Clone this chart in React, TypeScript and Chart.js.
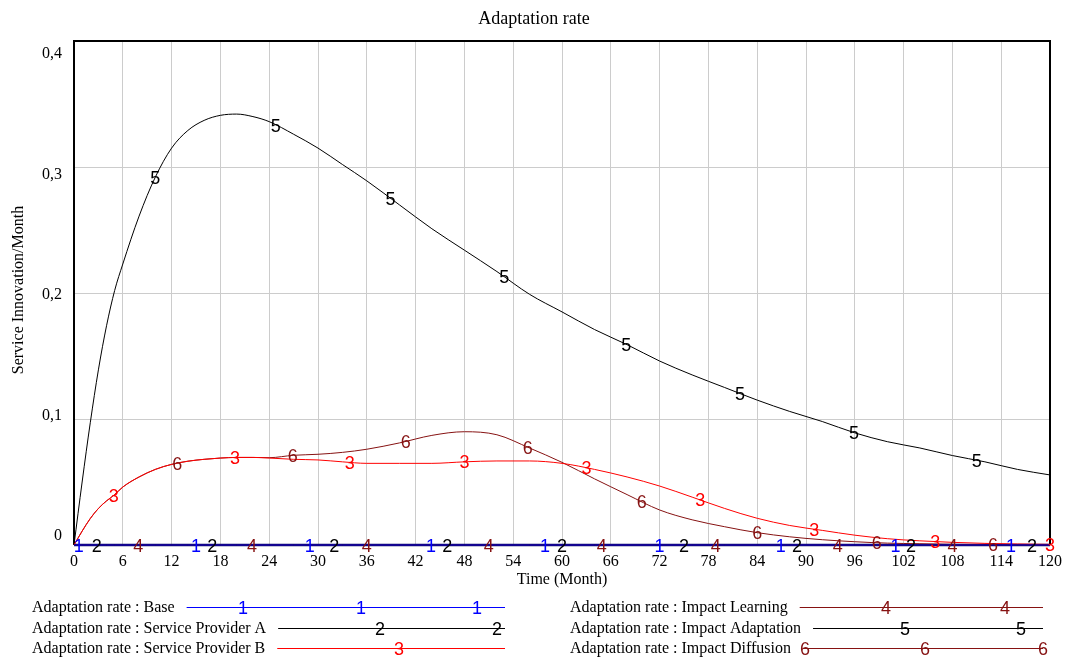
import { useEffect, useRef } from 'react';
import { Chart, registerables } from 'chart.js';

Chart.register(...registerables);

// ---------- data ----------
const TITLE = 'Adaptation rate';
const X_TITLE = 'Time (Month)';
const Y_TITLE = 'Service Innovation/Month';
const Y_TICK_LABELS = ['0', '0,1', '0,2', '0,3', '0,4'];

const SERIES_NAMES = [
  'Adaptation rate : Base',
  'Adaptation rate : Service Provider A',
  'Adaptation rate : Service Provider B',
  'Adaptation rate : Impact Learning',
  'Adaptation rate : Impact Adaptation',
  'Adaptation rate : Impact Diffusion',
];
const SERIES_MARKS = ['1', '2', '3', '4', '5', '6'];

const TIMES = [0, 1, 2, 3, 4, 5, 6, 8, 10, 12, 14, 16, 18, 20, 22, 24, 27, 30, 33, 36, 40, 44, 48, 52, 56, 60, 64, 68, 72, 76, 80, 84, 88, 92, 96, 100, 104, 108, 112, 116, 120];

const BASE = [0, 0, 0, 0, 0, 0, 0, 0, 0, 0, 0, 0, 0, 0, 0, 0, 0, 0, 0, 0, 0, 0, 0, 0, 0, 0, 0, 0, 0, 0, 0, 0, 0, 0, 0, 0, 0, 0, 0, 0, 0];
const SERVICE_PROVIDER_A = [0, 0, 0, 0, 0, 0, 0, 0, 0, 0, 0, 0, 0, 0, 0, 0, 0, 0, 0, 0, 0, 0, 0, 0, 0, 0, 0, 0, 0, 0, 0, 0, 0, 0, 0, 0, 0, 0, 0, 0, 0];
const SERVICE_PROVIDER_B = [0, 0.011, 0.021, 0.029, 0.035, 0.040, 0.046, 0.054, 0.060, 0.064, 0.0665, 0.068, 0.069, 0.0695, 0.0695, 0.069, 0.068, 0.0675, 0.066, 0.0648, 0.0648, 0.0648, 0.066, 0.0667, 0.0667, 0.0648, 0.060, 0.054, 0.0468, 0.038, 0.029, 0.0212, 0.0155, 0.0116, 0.0078, 0.005, 0.0033, 0.0021, 0.0013, 0.0008, 0.0005];
const IMPACT_LEARNING = [0, 0, 0, 0, 0, 0, 0, 0, 0, 0, 0, 0, 0, 0, 0, 0, 0, 0, 0, 0, 0, 0, 0, 0, 0, 0, 0, 0, 0, 0, 0, 0, 0, 0, 0, 0, 0, 0, 0, 0, 0];
const IMPACT_ADAPTATION = [0, 0.05, 0.097, 0.139, 0.174, 0.202, 0.223, 0.261, 0.292, 0.315, 0.329, 0.337, 0.341, 0.342, 0.340, 0.336, 0.326, 0.315, 0.302, 0.289, 0.270, 0.251, 0.234, 0.217, 0.199, 0.185, 0.171, 0.159, 0.146, 0.135, 0.125, 0.115, 0.106, 0.098, 0.089, 0.082, 0.077, 0.071, 0.066, 0.060, 0.0556];
const IMPACT_DIFFUSION = [0, 0.011, 0.021, 0.029, 0.035, 0.040, 0.046, 0.054, 0.060, 0.064, 0.0665, 0.068, 0.069, 0.0695, 0.0695, 0.0693, 0.0712, 0.072, 0.0735, 0.076, 0.081, 0.087, 0.0899, 0.0875, 0.077, 0.0656, 0.0525, 0.040, 0.0278, 0.020, 0.0145, 0.0098, 0.0065, 0.0042, 0.0026, 0.0015, 0.001, 0.0005, 0.0003, 0.0002, 0.0001];

// times at which the series number markers sit on each line
const MARK_T_BASE = [0.6, 15, 29, 43.9, 57.9, 72, 86.9, 101, 115.2];
const MARK_T_SP_A = [2.8, 17, 32, 45.9, 60, 75, 88.9, 102.9, 117.8];
const MARK_T_SP_B = [4.9, 19.8, 33.9, 48, 63, 77, 91, 105.9, 120];
const MARK_T_LEARN = [7.9, 21.9, 36, 51, 64.9, 78.9, 93.9, 108];
const MARK_T_ADAPT = [10, 24.8, 38.9, 52.9, 67.9, 81.9, 95.9, 111];
const MARK_T_DIFF = [12.7, 26.9, 40.8, 55.8, 69.8, 84, 98.7, 113];

const SERIES_VALUES = [BASE, SERVICE_PROVIDER_A, SERVICE_PROVIDER_B, IMPACT_LEARNING, IMPACT_ADAPTATION, IMPACT_DIFFUSION];
const SERIES_MARK_T = [MARK_T_BASE, MARK_T_SP_A, MARK_T_SP_B, MARK_T_LEARN, MARK_T_ADAPT, MARK_T_DIFF];

// ---------- styles ----------
const COLORS = ['#0000ff', '#000000', '#ff0000', '#861212', '#000000', '#861212'];
const SERIF = '"Liberation Serif", "Times New Roman", serif';
const SANS = '"Liberation Sans", Arial, sans-serif';

function valueAt(t: number, vals: number[]) {
  for (let i = 0; i < TIMES.length - 1; i++) {
    if (t >= TIMES[i] && t <= TIMES[i + 1]) {
      const f = (t - TIMES[i]) / (TIMES[i + 1] - TIMES[i]);
      return vals[i] + f * (vals[i + 1] - vals[i]);
    }
  }
  return vals[vals.length - 1];
}

function mark(ctx: CanvasRenderingContext2D, text: string, x: number, y: number, color: string) {
  ctx.save();
  ctx.font = `18px ${SANS}`;
  ctx.fillStyle = color;
  ctx.textAlign = 'center';
  ctx.textBaseline = 'alphabetic';
  ctx.fillText(text, x, y + 6.5);
  ctx.restore();
}

const vensimPlugin = {
  id: 'vensim',
  beforeDatasetsDraw(chart: any) {
    const { ctx, chartArea: a } = chart;
    ctx.save();
    ctx.strokeStyle = '#000';
    ctx.lineWidth = 2;
    ctx.beginPath();
    ctx.moveTo(a.left, a.bottom);
    ctx.lineTo(a.left, a.top);
    ctx.lineTo(a.right, a.top);
    ctx.lineTo(a.right, a.bottom);
    ctx.stroke();
    ctx.strokeStyle = '#10106e';
    ctx.lineWidth = 2.5;
    ctx.beginPath();
    ctx.moveTo(a.left, a.bottom);
    ctx.lineTo(a.right, a.bottom);
    ctx.stroke();
    ctx.restore();
  },
  afterDatasetsDraw(chart: any) {
    const { ctx } = chart;
    const xs = chart.scales.x;
    const ys = chart.scales.y;
    SERIES_VALUES.forEach((vals, i) => {
      SERIES_MARK_T[i].forEach((t) => {
        mark(ctx, SERIES_MARKS[i], xs.getPixelForValue(t), ys.getPixelForValue(valueAt(t, vals)), COLORS[i]);
      });
    });
  },
  afterDraw(chart: any) {
    const { ctx, chartArea: a } = chart;
    const xs = chart.scales.x;
    const ys = chart.scales.y;
    ctx.save();
    ctx.fillStyle = '#000';
    // title
    ctx.font = `18px ${SERIF}`;
    ctx.textAlign = 'center';
    ctx.textBaseline = 'alphabetic';
    ctx.fillText(TITLE, chart.width / 2, 24);
    // x ticks
    ctx.font = `16px ${SERIF}`;
    xs.ticks.forEach((tk: any) => {
      ctx.fillText(String(tk.value), xs.getPixelForValue(tk.value), 566);
    });
    ctx.fillText(X_TITLE, (a.left + a.right) / 2, 584);
    // y ticks
    ctx.textAlign = 'right';
    const h = a.bottom - a.top;
    ys.ticks.forEach((tk: any, i: number) => {
      const py = ys.getPixelForValue(tk.value);
      const ly = py + 12 - 22 * (py - a.top) / h;
      ctx.fillText(Y_TICK_LABELS[i], 62, ly + 5);
    });
    // y title
    ctx.save();
    ctx.translate(23, 290);
    ctx.rotate(-Math.PI / 2);
    ctx.textAlign = 'center';
    ctx.font = `16px ${SERIF}`;
    ctx.fillText(Y_TITLE, 0, 0);
    ctx.restore();
    // legend
    const rows = [
      { i: 0, x: 32, y: 607, end: 505, marks: [243, 361, 477] },
      { i: 1, x: 32, y: 628, end: 505, marks: [380, 497] },
      { i: 2, x: 32, y: 648, end: 505, marks: [399] },
      { i: 3, x: 570, y: 607, end: 1043, marks: [886, 1005] },
      { i: 4, x: 570, y: 628, end: 1043, marks: [905, 1021] },
      { i: 5, x: 570, y: 648, end: 1043, marks: [805, 925, 1043] },
    ];
    rows.forEach((r) => {
      ctx.font = `16px ${SERIF}`;
      ctx.textAlign = 'left';
      ctx.fillStyle = '#000';
      ctx.fillText(SERIES_NAMES[r.i], r.x, r.y + 5);
      const w = ctx.measureText(SERIES_NAMES[r.i]).width;
      ctx.strokeStyle = COLORS[r.i];
      ctx.lineWidth = 1;
      ctx.beginPath();
      ctx.moveTo(r.x + w + 12, r.y + 0.5);
      ctx.lineTo(r.end, r.y + 0.5);
      ctx.stroke();
      r.marks.forEach((mx) => mark(ctx, SERIES_MARKS[r.i], mx, r.y, COLORS[r.i]));
    });
    ctx.restore();
  },
};

export default function App() {
  const ref = useRef<HTMLCanvasElement>(null);
  useEffect(() => {
    document.body.style.margin = '0';
    const datasets = SERIES_VALUES.map((vals, i) => ({
      label: SERIES_NAMES[i],
      data: TIMES.map((t, k) => ({ x: t, y: vals[k] })),
      borderColor: COLORS[i],
      backgroundColor: COLORS[i],
      borderWidth: 1,
      pointRadius: 0,
      cubicInterpolationMode: 'monotone' as const,
      clip: false as any,
      fill: false,
    }));
    const chart = new Chart(ref.current!, {
      type: 'line',
      data: { datasets },
      options: {
        animation: false,
        responsive: false,
        layout: { padding: { left: 74, right: 18, top: 41, bottom: 116 } },
        plugins: { legend: { display: false }, tooltip: { enabled: false }, title: { display: false } },
        scales: {
          x: {
            type: 'linear',
            min: 0,
            max: 120,
            ticks: { stepSize: 6, display: false },
            grid: { color: '#cccccc', drawTicks: false },
            border: { display: false },
          },
          y: {
            type: 'linear',
            min: 0,
            max: 0.4,
            ticks: { stepSize: 0.1, display: false },
            grid: { color: '#cccccc', drawTicks: false },
            border: { display: false },
          },
        },
      },
      plugins: [vensimPlugin],
    });
    return () => chart.destroy();
  }, []);
  return (
    <div style={{ width: 1068, height: 661, background: '#fff' }}>
      <canvas ref={ref} width={1068} height={661} style={{ display: 'block' }} />
    </div>
  );
}
